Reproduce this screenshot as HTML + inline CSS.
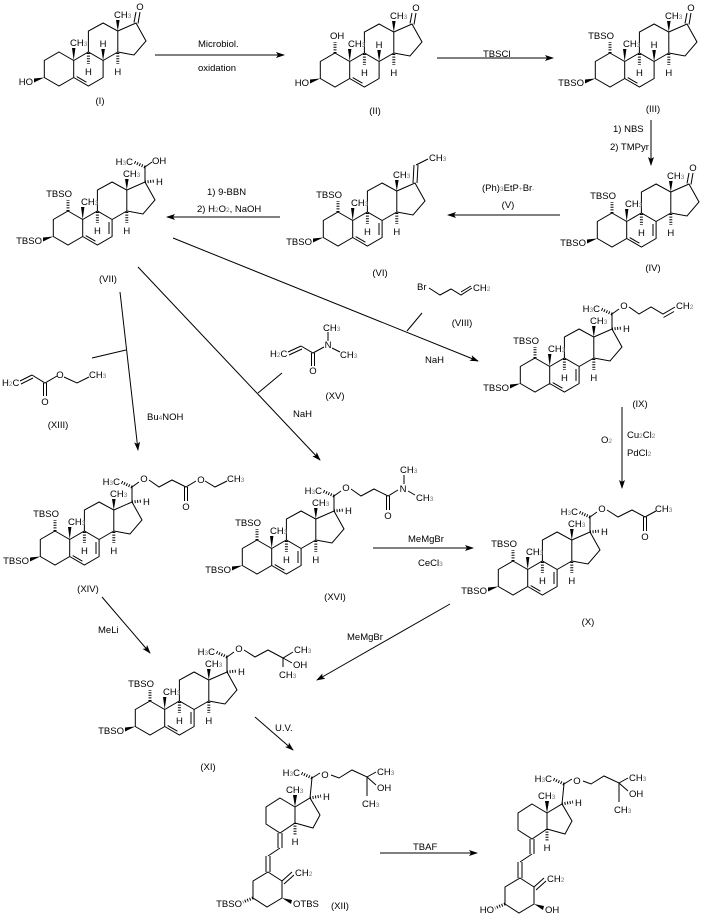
<!DOCTYPE html>
<html><head><meta charset="utf-8"><style>
html,body{margin:0;padding:0;background:#fff;}
svg{display:block;font-family:"Liberation Sans",Arial,sans-serif;font-size:9.5px;}
text{fill:#000;}
.m{text-anchor:middle}.e{text-anchor:end}
.s{font-size:6.5px;fill:#777}
.b{fill:none;stroke:#000;stroke-width:1}
.h{fill:none;stroke:#000;stroke-width:3;stroke-dasharray:1 1.6}
.w{fill:#000;stroke:none}
.a{fill:none;stroke:#000;stroke-width:1}
</style></head><body>
<svg width="709" height="923" viewBox="0 0 709 923" xmlns="http://www.w3.org/2000/svg">
<defs>
<marker id="ah" markerWidth="9" markerHeight="6" refX="8" refY="3" orient="auto" markerUnits="userSpaceOnUse">
<path d="M0,0 L9,3 L0,6 L2,3 z" fill="#000"/></marker>
<g id="sk">
<path class="b" d="M0,-17 L14.7,-8.5 L14.7,8.5 L0,17 L-14.7,8.5 L-14.7,-8.5 Z M14.7,-8.5 L29.4,-17 L44.1,-8.5 L44.1,8.5 L29.4,17 L14.7,8.5 M29.4,-17 L29.4,-38 L44.1,-46 L58.8,-38 L58.8,-17 L44.1,-8.5 M58.8,-38 L77,-46 L87,-28 L75,-14 L58.8,-17"/>
<polygon class="w" points="14.7,-8.5 13,-21 16.4,-21"/>
<polygon class="w" points="58.8,-38 57,-49 60.6,-49"/>
<polygon class="w" points="-14.7,8.5 -25,9.5 -25,13.5"/>
<line class="h" x1="29.4" y1="-16" x2="29.4" y2="-5"/>
<line class="h" x1="58.8" y1="-16" x2="58.8" y2="-5"/>
</g>
<line id="d56" class="b" x1="17.7" y1="7.6" x2="27.4" y2="13.2"/>
<line id="d78" class="b" x1="41" y1="-6" x2="41" y2="6"/>
<g id="h8"><polygon class="w" points="44.1,-8.5 42.3,-20 45.9,-20"/></g>
<g id="c1"><line class="h" x1="0" y1="-17" x2="0" y2="-28"/></g>
<g id="ket"><path class="b" d="M75,-46.5 L77,-57 M79,-45.5 L81,-57"/></g>
<g id="sc"><path class="b" d="M77,-46 L77,-61 M77,-61 L84,-66"/><line class="h" x1="77" y1="-61" x2="66" y2="-66"/><line class="h" x1="77" y1="-46" x2="87" y2="-47"/></g>
</defs>

<!-- (I) -->
<g transform="translate(59,69)">
<use href="#sk"/><use href="#d56"/><use href="#h8"/><use href="#ket"/>
<text x="11" y="-23">CH<tspan class="s">3</tspan></text><text x="55" y="-51">CH<tspan class="s">3</tspan></text>
<text class="m" x="29.4" y="6">H</text><text class="m" x="58.8" y="6">H</text><text class="m" x="44" y="-22">H</text>
<text class="m" x="81" y="-59">O</text><text class="e" x="-26" y="16">HO</text>
</g>
<text class="m" x="100" y="104">(I)</text>

<!-- (II) -->
<g transform="translate(335,70)">
<use href="#sk"/><use href="#d56"/><use href="#h8"/><use href="#ket"/><use href="#c1"/>
<text x="13" y="-23">CH<tspan class="s">3</tspan></text><text x="55" y="-51">CH<tspan class="s">3</tspan></text>
<text class="m" x="29.4" y="6">H</text><text class="m" x="58.8" y="6">H</text><text class="m" x="44" y="-22">H</text>
<text class="m" x="81" y="-59">O</text><text class="e" x="-26" y="16">HO</text><text x="-5" y="-31">OH</text>
</g>
<text class="m" x="375" y="114">(II)</text>

<!-- (III) -->
<g transform="translate(610,70)">
<use href="#sk"/><use href="#d56"/><use href="#h8"/><use href="#ket"/><use href="#c1"/>
<text x="13" y="-23">CH<tspan class="s">3</tspan></text><text x="55" y="-51">CH<tspan class="s">3</tspan></text>
<text class="m" x="29.4" y="6">H</text><text class="m" x="58.8" y="6">H</text><text class="m" x="44" y="-22">H</text>
<text class="m" x="81" y="-59">O</text><text class="e" x="-26" y="16">TBSO</text><text class="e" x="4" y="-31">TBSO</text>
</g>
<text class="m" x="653" y="112">(III)</text>

<!-- (IV) -->
<g transform="translate(612,230)">
<use href="#sk"/><use href="#d56"/><use href="#d78"/><use href="#ket"/><use href="#c1"/>
<text x="13" y="-23">CH<tspan class="s">3</tspan></text><text x="55" y="-51">CH<tspan class="s">3</tspan></text>
<text class="m" x="29.4" y="6">H</text><text class="m" x="58.8" y="6">H</text>
<text class="m" x="81" y="-59">O</text><text class="e" x="-26" y="16">TBSO</text><text class="e" x="4" y="-31">TBSO</text>
</g>
<text class="m" x="653" y="271">(IV)</text>

<!-- (VI) -->
<g transform="translate(338,229)">
<use href="#sk"/><use href="#d56"/><use href="#d78"/><use href="#c1"/>
<path class="b" d="M75,-46 L76,-64 M79,-46 L80,-64 M78,-64 L90,-70"/>
<text x="13" y="-23">CH<tspan class="s">3</tspan></text><text x="55" y="-51">CH<tspan class="s">3</tspan></text>
<text class="m" x="29.4" y="6">H</text><text class="m" x="58.8" y="6">H</text>
<text x="91" y="-68">CH<tspan class="s">3</tspan></text>
<text class="e" x="-26" y="16">TBSO</text><text class="e" x="4" y="-31">TBSO</text>
</g>
<text class="m" x="380" y="276">(VI)</text>

<!-- (VII) -->
<g transform="translate(68,228)">
<use href="#sk"/><use href="#d56"/><use href="#d78"/><use href="#c1"/><use href="#sc"/>
<text x="13" y="-23">CH<tspan class="s">3</tspan></text><text x="55" y="-51">CH<tspan class="s">3</tspan></text>
<text class="m" x="29.4" y="6">H</text><text class="m" x="58.8" y="6">H</text><text x="88" y="-43">H</text>
<text class="e" x="65" y="-63">H<tspan class="s">3</tspan>C</text><text x="84" y="-64">OH</text>
<text class="e" x="-26" y="16">TBSO</text><text class="e" x="4" y="-31">TBSO</text>
</g>
<text class="m" x="108" y="282">(VII)</text>

<!-- (IX) -->
<g transform="translate(535,375)">
<use href="#sk"/><use href="#d56"/><use href="#d78"/><use href="#c1"/><use href="#sc"/>
<text x="13" y="-23">CH<tspan class="s">3</tspan></text><text x="55" y="-51">CH<tspan class="s">3</tspan></text>
<text class="m" x="29.4" y="6">H</text><text class="m" x="58.8" y="6">H</text><text x="88" y="-43">H</text>
<text class="e" x="65" y="-63">H<tspan class="s">3</tspan>C</text><text class="m" x="89" y="-66">O</text>
<path class="b" d="M94,-68 L104,-61 L116,-68 L128,-61 L140,-68 M128.5,-57.5 L139,-63.5"/>
<text x="141" y="-66">CH<tspan class="s">2</tspan></text>
<text class="e" x="-26" y="16">TBSO</text><text class="e" x="4" y="-31">TBSO</text>
</g>
<text class="m" x="640" y="407">(IX)</text>

<!-- (XIV) -->
<g transform="translate(55,548)">
<use href="#sk"/><use href="#d56"/><use href="#d78"/><use href="#c1"/><use href="#sc"/>
<text x="13" y="-23">CH<tspan class="s">3</tspan></text><text x="55" y="-51">CH<tspan class="s">3</tspan></text>
<text class="m" x="29.4" y="6">H</text><text class="m" x="58.8" y="6">H</text><text x="88" y="-43">H</text>
<text class="e" x="65" y="-63">H<tspan class="s">3</tspan>C</text><text class="m" x="89" y="-66">O</text>
<path class="b" d="M94,-68 L104,-61 L117,-68 L131,-61 L141,-67 M129.5,-61 L129.5,-47 M132.5,-61 L132.5,-47 M150,-67 L160,-61 L172,-67"/>
<text class="m" x="131" y="-38">O</text><text class="m" x="146" y="-65">O</text>
<text x="172" y="-66">CH<tspan class="s">3</tspan></text>
<text class="e" x="-26" y="16">TBSO</text><text class="e" x="4" y="-31">TBSO</text>
</g>
<text class="m" x="88" y="592">(XIV)</text>

<!-- (XVI) -->
<g transform="translate(257,557)">
<use href="#sk"/><use href="#d56"/><use href="#d78"/><use href="#c1"/><use href="#sc"/>
<text x="13" y="-23">CH<tspan class="s">3</tspan></text><text x="55" y="-51">CH<tspan class="s">3</tspan></text>
<text class="m" x="29.4" y="6">H</text><text class="m" x="58.8" y="6">H</text><text x="88" y="-43">H</text>
<text class="e" x="65" y="-63">H<tspan class="s">3</tspan>C</text><text class="m" x="89" y="-66">O</text>
<path class="b" d="M94,-68 L104,-61 L117,-68 L131,-61 L141,-67 M129.5,-61 L129.5,-47 M132.5,-61 L132.5,-47 M147,-73 L147,-82 M151,-66 L158,-62"/>
<text class="m" x="131" y="-38">O</text><text class="m" x="146" y="-65">N</text>
<text x="143" y="-84">CH<tspan class="s">3</tspan></text><text x="159" y="-56">CH<tspan class="s">3</tspan></text>
<text class="e" x="-26" y="16">TBSO</text><text class="e" x="4" y="-31">TBSO</text>
</g>
<text class="m" x="335" y="600">(XVI)</text>

<!-- (X) -->
<g transform="translate(513,578)">
<use href="#sk"/><use href="#d56"/><use href="#d78"/><use href="#c1"/><use href="#sc"/>
<text x="13" y="-23">CH<tspan class="s">3</tspan></text><text x="55" y="-51">CH<tspan class="s">3</tspan></text>
<text class="m" x="29.4" y="6">H</text><text class="m" x="58.8" y="6">H</text><text x="88" y="-43">H</text>
<text class="e" x="65" y="-63">H<tspan class="s">3</tspan>C</text><text class="m" x="89" y="-66">O</text>
<path class="b" d="M94,-68 L105,-61 L119,-68 L132,-61 L143,-67 M130.5,-61 L130.5,-47 M133.5,-61 L133.5,-47"/>
<text class="m" x="132" y="-38">O</text><text x="142" y="-66">CH<tspan class="s">3</tspan></text>
<text class="e" x="-26" y="16">TBSO</text><text class="e" x="4" y="-31">TBSO</text>
</g>
<text class="m" x="588" y="625">(X)</text>

<!-- (XI) -->
<g transform="translate(150,718)">
<use href="#sk"/><use href="#d56"/><use href="#d78"/><use href="#c1"/><use href="#sc"/>
<text x="13" y="-23">CH<tspan class="s">3</tspan></text><text x="55" y="-51">CH<tspan class="s">3</tspan></text>
<text class="m" x="29.4" y="6">H</text><text class="m" x="58.8" y="6">H</text><text x="88" y="-43">H</text>
<text class="e" x="65" y="-63">H<tspan class="s">3</tspan>C</text><text class="m" x="89" y="-66">O</text>
<path class="b" d="M94,-68 L105,-61 L118,-68 L133,-60 L143,-66 M133,-60 L142,-55 M133,-60 L133,-51"/>
<text x="144" y="-65">CH<tspan class="s">3</tspan></text><text x="143" y="-50">OH</text><text x="129" y="-40">CH<tspan class="s">3</tspan></text>
<text class="e" x="-26" y="16">TBSO</text><text class="e" x="4" y="-31">TBSO</text>
</g>
<text class="m" x="208" y="770">(XI)</text>

<!-- (XII) and final -->
<g id="xii">
<path class="b" d="M280,798 L295,807 L295,823 L280,833 L266,824 L266,807 Z M295,807 L310,798 L320,815 L313,828 L295,823 M310,798 L312,778 M312,778 L320,773 M331,775 L339,778 L352,770 L367,777 L376,772 M367,777 L376,785 M367,777 L367,796 M278,833 L278,848 M282,833 L282,848 M280,848 L268,856 M266,856 L266,872 M270,856 L270,872 M268,872 L282,881 L282,898 L267,907 L253,898 L253,881 Z M282,881 L292,872 M284,884 L294,875"/>
<polygon class="w" points="295,807 293,795 297,795"/>
<line class="h" x1="310" y1="798" x2="321" y2="796"/>
<line class="h" x1="312" y1="778" x2="301" y2="773"/>
<line class="h" x1="295" y1="823" x2="295" y2="835"/>
<polygon class="w" points="282,898 292,900 291,904"/>
<line class="h" x1="253" y1="898" x2="243" y2="902"/>
<text x="286" y="793">CH<tspan class="s">3</tspan></text>
<text x="323" y="800">H</text>
<text class="e" x="300" y="776">H<tspan class="s">3</tspan>C</text>
<text class="m" x="325" y="778">O</text>
<text x="377" y="775">CH<tspan class="s">3</tspan></text>
<text x="377" y="791">OH</text>
<text x="362" y="807">CH<tspan class="s">3</tspan></text>
<text class="m" x="295" y="845">H</text>
<text x="295" y="876">CH<tspan class="s">2</tspan></text>
</g>
<text x="293" y="907">OTBS</text><text class="e" x="242" y="907">TBSO</text>
<text class="m" x="340" y="909">(XII)</text>
<use href="#xii" transform="translate(252,6)"/>
<text x="545" y="913">OH</text><text class="e" x="494" y="913">HO</text>

<!-- small reagents -->
<text x="417" y="290">Br</text>
<path class="b" d="M429,288 L440,295 L451,289 L461,295 L472,288 M461,292 L471,286"/>
<text x="473" y="291">CH<tspan class="s">2</tspan></text>
<text class="m" x="462" y="326">(VIII)</text>

<text x="2" y="386">H<tspan class="s">2</tspan>C</text>
<path class="b" d="M20,381 L32,375 M21,384 L33,378 M32,375 L45,383 L57,376 M43.5,383 L43.5,396 M46.5,383 L46.5,396 M64,377 L77,383 L89,377"/>
<text class="m" x="45" y="405">O</text><text class="m" x="60" y="378">O</text>
<text x="89" y="378">CH<tspan class="s">3</tspan></text>
<text class="m" x="58" y="428">(XIII)</text>

<text x="270" y="357">H<tspan class="s">2</tspan>C</text>
<path class="b" d="M288,352 L301,346 M289,355 L302,349 M301,346 L313,353 L324,347 M311.5,353 L311.5,366 M314.5,353 L314.5,366 M328,341 L328,332 M332,348 L340,352"/>
<text class="m" x="313" y="374">O</text><text class="m" x="328" y="348">N</text>
<text x="323" y="331">CH<tspan class="s">3</tspan></text><text x="340" y="358">CH<tspan class="s">3</tspan></text>
<text class="m" x="335" y="399">(XV)</text>

<!-- arrows -->
<g class="a" marker-end="url(#ah)">
<line x1="155" y1="55" x2="284" y2="55"/>
<line x1="437" y1="58" x2="553" y2="58"/>
<line x1="651" y1="120" x2="651" y2="165"/>
<line x1="560" y1="215" x2="448" y2="215"/>
<line x1="280" y1="217" x2="167" y2="217"/>
<line x1="173" y1="238" x2="478" y2="361"/>
<line x1="120" y1="292" x2="138" y2="450"/>
<line x1="138" y1="267" x2="320" y2="460"/>
<line x1="622" y1="407" x2="622" y2="488"/>
<line x1="373" y1="548" x2="473" y2="548"/>
<line x1="450" y1="604" x2="317" y2="680"/>
<line x1="102" y1="597" x2="150" y2="653"/>
<line x1="255" y1="717" x2="293" y2="750"/>
<line x1="380" y1="853" x2="477" y2="853"/>
</g>
<path class="b" d="M407,331 L422,313 M92,358 L126,350 M258,393 L282,373"/>

<!-- reagent text -->
<text x="198" y="47">Microbiol.</text>
<text x="198" y="71">oxidation</text>
<text x="483" y="57">TBSCl</text>
<text x="613" y="132">1) NBS</text>
<text x="610" y="150">2) TMPyr</text>
<text x="482" y="191">(Ph)<tspan class="s">3</tspan>EtP<tspan class="s">+</tspan>Br<tspan class="s">-</tspan></text>
<text class="m" x="508" y="208">(V)</text>
<text x="207" y="195">1) 9-BBN</text>
<text x="197" y="212">2) H<tspan class="s">2</tspan>O<tspan class="s">2</tspan>, NaOH</text>
<text x="147" y="420">Bu<tspan class="s">4</tspan>NOH</text>
<text x="293" y="417">NaH</text>
<text x="425" y="363">NaH</text>
<text x="601" y="443">O<tspan class="s">2</tspan></text>
<text x="627" y="438">Cu<tspan class="s">2</tspan>Cl<tspan class="s">2</tspan></text>
<text x="627" y="456">PdCl<tspan class="s">2</tspan></text>
<text x="408" y="542">MeMgBr</text>
<text x="418" y="566">CeCl<tspan class="s">3</tspan></text>
<text x="347" y="640">MeMgBr</text>
<text x="98" y="633">MeLi</text>
<text x="275" y="731">U.V.</text>
<text x="413" y="850">TBAF</text>
</svg>
</body></html>
